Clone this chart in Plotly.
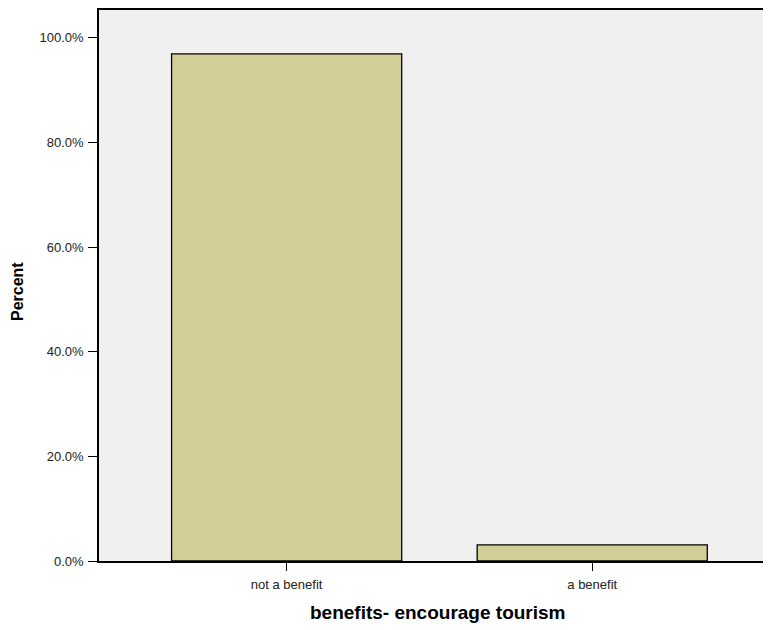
import plotly.graph_objects as go

categories = ["not a benefit", "a benefit"]
percents = [96.9, 3.1]
y_ticks = [0, 20, 40, 60, 80, 100]
y_tick_labels = ["0.0%", "20.0%", "40.0%", "60.0%", "80.0%", "100.0%"]

# page has an 8px default body margin; compensate so the plot lands at target pixels
OFF = 8
W, H = 771 - OFF, 630 - OFF
L, R, T, B = 99 - OFF, 0, 10 - OFF, 69


def px_x(x):
    return (x - OFF - L) / (W - L - R)


def px_y(y):
    return 1 - (y - OFF - T) / (H - T - B)


fig = go.Figure()
fig.add_trace(go.Bar(
    x=[0, 1], y=percents, width=0.753,
    marker=dict(color="#D3CE98", line=dict(color="black", width=1.3)),
    hoverinfo="skip",
))

fig.update_layout(
    width=W, height=H,
    margin=dict(l=L, r=R, t=T, b=B),
    paper_bgcolor="white",
    plot_bgcolor="#F0F0F0",
    showlegend=False,
    font=dict(family="Liberation Sans, Arial", color="#222222", size=13),
    xaxis=dict(
        range=[-0.614, 1.585],
        tickvals=[0, 1], ticktext=categories,
        ticks="outside", ticklen=8, tickwidth=1.3, tickcolor="black",
        showline=True, linecolor="black", linewidth=1.5, mirror=True,
        showgrid=False, zeroline=False, fixedrange=True,
        tickfont=dict(size=13), ticklabelstandoff=3,
    ),
    yaxis=dict(
        range=[0, 105.3],
        tickvals=y_ticks, ticktext=y_tick_labels,
        ticks="outside", ticklen=9, tickwidth=1.3, tickcolor="black",
        showline=True, linecolor="black", linewidth=1.5,
        showgrid=False, zeroline=False, fixedrange=True,
        tickfont=dict(size=13), ticklabelstandoff=2,
    ),
    annotations=[
        dict(text="<b>benefits- encourage tourism</b>", xref="paper", yref="paper",
             x=px_x(437.5), y=px_y(612),
             xanchor="center", yanchor="middle", showarrow=False,
             font=dict(size=19, color="black")),
        dict(text="<b>Percent</b>", xref="paper", yref="paper",
             x=px_x(17), y=px_y(292),
             xanchor="center", yanchor="middle", showarrow=False, textangle=-90,
             font=dict(size=16, color="black")),
    ],
)

fig.write_html("out.html")
